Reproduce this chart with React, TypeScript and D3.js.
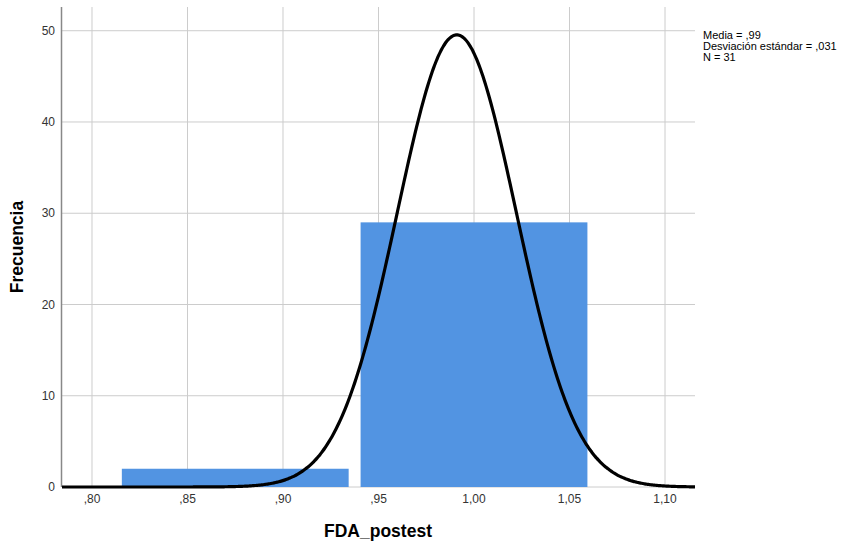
import React from 'react'
import * as d3 from 'd3'

// histogram bins (lower edge, upper edge, count)
const binStarts = [0.8125, 0.9375]
const binEnds = [0.9375, 1.0625]
const binCounts = [2, 29]

const xTicks = [0.8, 0.85, 0.9, 0.95, 1.0, 1.05, 1.1]
const xTickLabels = [',80', ',85', ',90', ',95', '1,00', '1,05', '1,10']
const yTicks = [0, 10, 20, 30, 40, 50]

const mean = 0.991
const sd = 0.0312
const n = 31
const statLines = ['Media = ,99', 'Desviación estándar = ,031', 'N = 31']

const App = () => {
    const width = 851
    const height = 547
    const left = 62
    const right = 695
    const top = 7
    const bottom = 487

    const xScale = d3.scaleLinear().domain([0.7843, 1.1157]).range([left, right])
    const yScale = d3.scaleLinear().domain([0, 52.6]).range([bottom, top])

    const binWidth = binEnds[0] - binStarts[0]
    const pad = binWidth * 0.025

    const curvePts = d3.range(0, 401).map(i => {
        const x = 0.7843 + (1.1157 - 0.7843) * i / 400
        const y = n * binWidth * Math.exp(-0.5 * ((x - mean) / sd) ** 2) / (sd * Math.sqrt(2 * Math.PI))
        return [x, y] as [number, number]
    })
    const line = d3.line<[number, number]>()
        .x(d => xScale(d[0]))
        .y(d => yScale(d[1]))
        .curve(d3.curveBasis)

    const font = 'Arial, "Liberation Sans", sans-serif'

    return (
        <svg width={width} height={height} style={{ position: 'absolute', left: 0, top: 0 }}>
            <rect width={width} height={height} fill="#fff" />
            {yTicks.map(t => (
                <line key={'gy' + t} x1={left} x2={right} y1={yScale(t)} y2={yScale(t)} stroke="#cccccc" strokeWidth={1} />
            ))}
            {xTicks.map(t => (
                <line key={'gx' + t} x1={xScale(t)} x2={xScale(t)} y1={top} y2={bottom} stroke="#cccccc" strokeWidth={1} />
            ))}
            {binCounts.map((c, i) => (
                <rect key={'b' + i}
                    x={xScale(binStarts[i] + pad)}
                    width={xScale(binEnds[i] - pad) - xScale(binStarts[i] + pad)}
                    y={yScale(c)}
                    height={yScale(0) - yScale(c)}
                    fill="#5294e2" />
            ))}
            <line x1={left - 0.5} x2={left - 0.5} y1={top} y2={bottom} stroke="#888" strokeWidth={1.5} />
            <path d={line(curvePts) || ''} fill="none" stroke="#000" strokeWidth={3.2} />
            {yTicks.map(t => (
                <text key={'ty' + t} x={55} y={yScale(t)} dy="0.35em" textAnchor="end" fontFamily={font} fontSize={12} fill="#333">{t}</text>
            ))}
            {xTicks.map((t, i) => (
                <text key={'tx' + t} x={xScale(t)} y={503} textAnchor="middle" fontFamily={font} fontSize={12} fill="#333">{xTickLabels[i]}</text>
            ))}
            <text x={378} y={537} textAnchor="middle" fontFamily={font} fontSize={17.5} fontWeight="bold" fill="#000">FDA_postest</text>
            <text transform={`translate(23, 247) rotate(-90)`} textAnchor="middle" fontFamily={font} fontSize={17.5} fontWeight="bold" fill="#000">Frecuencia</text>
            {statLines.map((s, i) => (
                <text key={'s' + i} x={703} y={39 + i * 11} fontFamily={font} fontSize={11} fill="#000">{s}</text>
            ))}
        </svg>
    )
}

export default App
